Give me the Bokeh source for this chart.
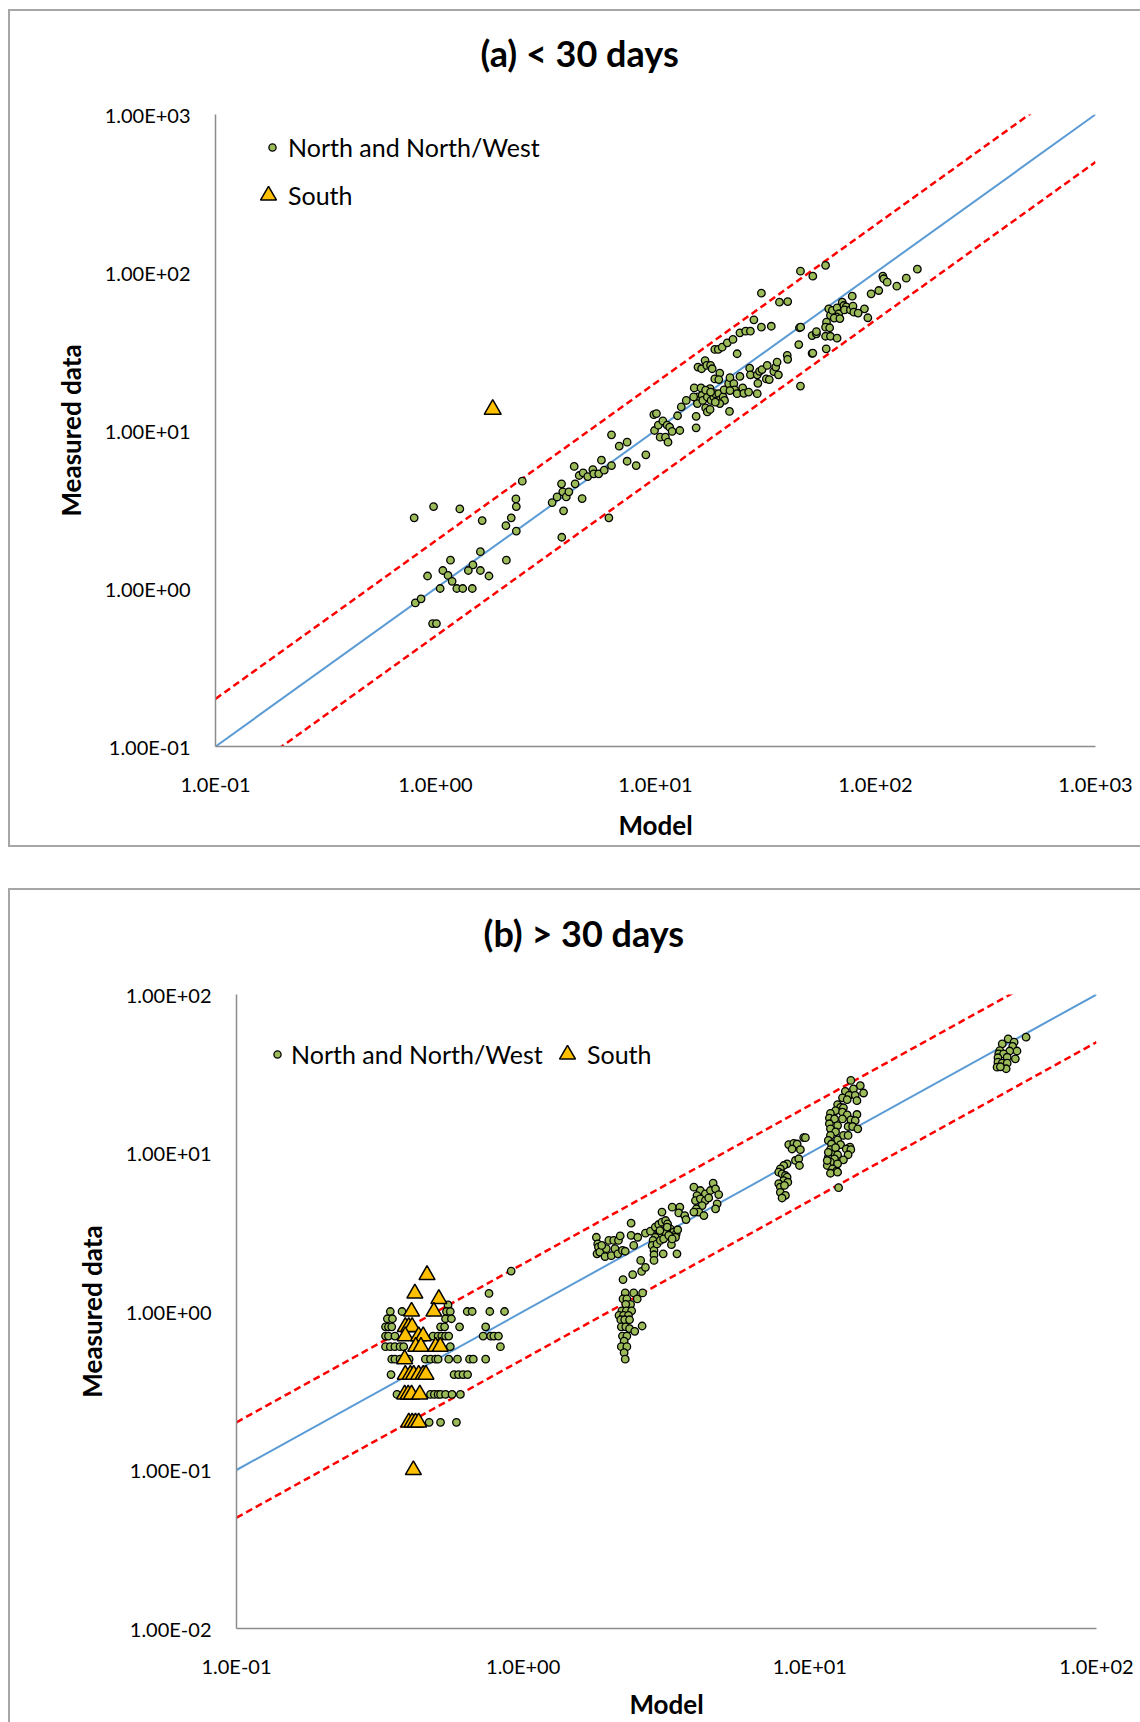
from bokeh.plotting import figure
from bokeh.models import (FixedTicker, CustomJSTickFormatter, Legend, LegendItem, Title, Range1d)
from bokeh.layouts import column
from bokeh.embed import file_html
from bokeh.resources import INLINE

# ---------------- data: panel (a) < 30 days ----------------
a_nnw_model = [0.80, 0.98, 1.29, 1.63, 2.48, 2.32, 2.33, 2.21, 2.09, 2.33, 1.60, 1.48, 1.17, 1.08, 1.14, 0.92,
               1.19, 1.05, 1.25, 1.33, 1.47, 1.41, 1.60, 1.75, 2.10, 0.81, 0.86, 0.97, 1.01, 3.75, 3.82, 3.39,
               3.57, 3.74, 3.79, 3.93, 4.04, 4.27, 4.31, 4.64, 4.50, 4.69, 4.92, 5.19, 5.24, 5.52, 5.68, 5.85,
               6.31, 6.14, 6.31, 6.84, 7.43, 7.43,
               8.17, 9.04, 9.83, 10.1, 9.9, 10.3, 10.8, 10.5, 11.1, 11.4, 11.3, 11.6, 11.9, 12.9, 12.6, 13.1,
               13.8, 15.3, 15.3, 15.0, 15.6, 16.2, 16.8, 17.1, 17.8, 18.1, 15.6, 15.5, 15.5, 16.1, 16.3, 16.4,
               16.9, 17.2, 17.7, 17.2, 17.7, 16.9, 17.9, 18.4, 18.6, 19.6, 19.4, 18.7, 19.4, 19.6, 20.3, 20.5,
               20.6, 19.6, 18.7, 17.8, 14.9, 21.5, 21.8, 22.7, 22.9, 21.8, 23.5, 24.2, 24.9, 25.2, 26.5, 21.7,
               23.5, 18.6, 19.3, 20.1, 21.2, 22.5, 24.2, 25.7, 27.0, 28.0, 30.3, 33.6, 36.6, 39.9, 26.8, 27.0,
               29.0, 29.2, 29.0, 29.7, 30.5, 32.2, 31.9, 32.9, 34.5, 35.2, 35.7, 36.2, 39.7, 39.9, 45.1, 45.7,
               44.8, 45.6, 51.5, 53.9, 51.5, 30.3,
               45.6, 51.9, 59.3, 78.4, 95.5, 103.5, 108, 109, 113, 125, 138, 155, 61.3, 62.4, 63.7, 66.9,
               68.1, 66.5, 64.9, 68.9, 70.6, 71.8, 73.6, 72.3, 76.9, 79.0, 79.7, 83.4, 89.1, 92.3, 59.9, 59.3,
               61.9, 59.3, 62.4, 66.9, 59.7, 53.9, 51.9]
a_nnw_measured = [2.80, 3.30, 3.19, 2.69, 4.78, 3.69, 3.30, 2.80, 2.50, 2.31, 1.71, 1.41, 1.51, 1.30, 1.21, 1.20,
                  1.11, 1.00, 1.00, 1.00, 1.00, 1.30, 1.30, 1.20, 1.51, 0.81, 0.86, 0.60, 0.60, 2.11, 3.10, 3.50,
                  3.80, 4.60, 4.09, 3.80, 4.09, 5.92, 4.60, 3.71, 5.19, 5.40, 5.11, 5.66, 5.32, 5.32, 6.49, 5.61,
                  6.00, 2.80, 9.39, 7.96, 8.44, 6.39,
                  6.0, 7.02, 12.6, 12.8, 10.0, 10.8, 11.5, 9.07, 9.07, 8.43, 10.8, 10.5, 9.86, 10.0, 12.4, 14.1,
                  15.5, 10.4, 12.3, 18.6, 25.2, 24.6, 27.7, 25.8, 25.8, 24.6, 16.3, 15.5, 14.8, 18.6, 16.7, 15.5,
                  13.9, 13.1, 13.6, 16.3, 18.4, 18.0, 15.5, 16.3, 21.2, 23.1, 21.0, 17.1, 17.1, 15.6, 16.3, 18.1,
                  15.5, 14.8, 15.1, 17.5, 16.3, 19.8, 21.6, 19.8, 18.1, 17.9, 17.1, 22.0, 18.6, 17.2, 17.5, 13.2,
                  30.6, 32.6, 32.6, 33.7, 35.9, 37.7, 41.5, 42.5, 42.5, 50.2, 45.1, 45.7, 64.9, 65.5, 24.8, 22.5,
                  22.5, 19.9, 17.1, 23.7, 24.3, 25.8, 21.2, 21.0, 23.6, 25.2, 27.1, 22.5, 29.9, 28.2, 44.7, 45.1,
                  35.0, 19.1, 39.9, 40.9, 30.8, 74.0,
                  102, 94.8, 111, 70.8, 73.3, 76.9, 94.8, 91.3, 86.9, 81.9, 92.0, 105, 58.9, 53.5, 57.5, 59.8,
                  54.8, 52.4, 51.5, 51.1, 64.9, 61.8, 60.6, 58.0, 58.0, 61.2, 56.1, 55.4, 58.9, 51.7, 48.5, 45.1,
                  44.7, 39.5, 39.5, 38.4, 32.9, 42.3, 30.9]
a_south_model = [1.82]
a_south_measured = [13.6]

# ---------------- data: panel (b) > 30 days ----------------
b_nnw_model = [0.908, 0.76, 0.547,
               0.344, 0.378, 0.54, 0.557, 0.638, 0.664, 0.765, 0.861,
               0.336, 0.35, 0.536, 0.562,
               0.331, 0.339, 0.348, 0.515, 0.532, 0.60, 0.74,
               0.331, 0.339, 0.357, 0.485, 0.505, 0.52, 0.536, 0.55, 0.725, 0.77, 0.79, 0.82,
               0.331, 0.344, 0.357, 0.372, 0.383, 0.557, 0.833,
               0.348, 0.357, 0.372, 0.39, 0.40, 0.456, 0.475, 0.495, 0.505, 0.55, 0.59, 0.65, 0.67, 0.74,
               0.346, 0.574, 0.595, 0.617, 0.64,
               0.363, 0.475, 0.49, 0.505, 0.515, 0.536, 0.565, 0.604,
               0.47, 0.515, 0.585,
               1.80, 1.82, 1.83, 1.81, 1.85, 1.93, 1.95, 1.99, 2.03, 2.07, 2.09, 2.14, 2.15, 2.18, 2.22, 2.27, 1.88,
               2.23, 2.41, 2.59, 2.67, 2.57, 2.27, 2.23, 2.30, 2.43, 2.50, 2.61, 2.37, 2.28, 2.21, 2.29, 2.39,
               2.16, 2.24, 2.33, 2.19, 2.26, 2.35, 2.20, 2.28, 2.35, 2.22, 2.30, 2.25, 2.20, 2.30, 2.25, 2.27,
               2.60, 2.45,
               3.05, 3.31, 3.52, 3.49, 3.66, 3.70, 2.67, 2.78, 2.89, 2.97, 3.05, 3.14, 3.19, 3.26, 3.35, 3.42,
               3.46, 3.40, 3.19, 3.09, 2.97, 2.89, 2.84, 2.82, 2.86, 2.86, 2.86, 2.93, 3.01, 3.09, 3.22, 3.29,
               3.31, 3.44, 3.08, 3.18, 3.00, 2.38, 2.38, 2.51, 2.43,
               3.94, 4.15, 4.32, 4.50, 4.60, 4.69, 4.81, 4.04, 3.99, 4.15, 4.32, 4.44, 4.21, 4.02, 4.10, 4.27,
               4.75, 4.69, 3.94,
               8.44, 8.79, 9.03, 8.67, 9.27, 9.52, 9.65, 8.91, 9.15, 9.20, 8.33, 8.11, 7.89, 7.79, 8.00, 8.22,
               8.33, 8.11, 8.38, 7.79, 7.89, 8.16, 7.89, 8.22, 8.00,
               13.9, 15.0, 14.2, 13.3, 15.4, 13.7, 14.4, 13.0, 13.5, 14.6, 12.5, 12.8, 13.1, 12.3, 11.8, 13.0,
               13.5, 14.6, 11.7, 12.2, 13.0, 13.9, 14.4, 11.7, 12.5, 13.6, 14.1, 14.7, 11.8, 12.3, 13.1, 13.6,
               11.8, 11.6, 12.5, 11.9, 12.8, 13.8, 11.8, 12.3, 13.4, 13.9, 11.9, 12.5, 13.6, 11.6, 12.2, 13.1,
               11.8, 12.5, 11.5, 12.0, 12.4, 11.8, 12.5, 12.6, 11.5, 11.6,
               49.2, 56.8, 46.9, 51.6, 51.0, 52.8, 49.8, 46.0, 45.6, 47.4, 45.3, 48.8, 52.1, 45.3, 46.9, 48.8,
               45.0, 48.4, 46.2]
b_nnw_measured = [1.8, 1.3, 1.1,
                  1.0, 1.0, 1.0, 1.0, 1.0, 1.0, 1.0, 1.0,
                  0.9, 0.9, 0.9, 0.9,
                  0.8, 0.8, 0.8, 0.8, 0.8, 0.8, 0.8,
                  0.7, 0.7, 0.7, 0.7, 0.7, 0.7, 0.7, 0.7, 0.7, 0.7, 0.7, 0.7,
                  0.6, 0.6, 0.6, 0.6, 0.6, 0.6, 0.6,
                  0.5, 0.5, 0.5, 0.5, 0.5, 0.5, 0.5, 0.5, 0.5, 0.5, 0.5, 0.5, 0.5, 0.5,
                  0.4, 0.4, 0.4, 0.4, 0.4,
                  0.3, 0.3, 0.3, 0.3, 0.3, 0.3, 0.3, 0.3,
                  0.2, 0.2, 0.2,
                  2.94, 2.67, 2.55, 2.31, 2.37, 2.22, 2.49, 2.81, 2.25, 2.81, 2.49, 2.31, 2.81, 3.00, 2.43, 2.40, 2.61,
                  1.59, 1.71, 1.79, 1.90, 2.10, 1.31, 1.20, 1.20, 1.31, 1.20, 1.31, 1.11, 1.11, 1.01, 1.01, 1.01,
                  0.944, 0.944, 0.944, 0.887, 0.887, 0.887, 0.80, 0.80, 0.78, 0.70, 0.70, 0.65, 0.60, 0.60, 0.55, 0.50,
                  0.81, 0.75,
                  4.24, 4.55, 4.55, 4.19, 4.03, 3.80, 3.12, 3.21, 3.41, 3.54, 3.66, 3.75, 3.57, 3.32, 3.17, 3.09,
                  3.28, 2.94, 3.09, 3.17, 3.09, 2.94, 2.81, 2.61, 2.43, 2.28, 2.10, 2.67, 2.81, 2.87, 3.02, 2.64,
                  2.87, 2.31, 2.31, 3.41, 3.24, 3.61, 3.02, 2.94, 2.61,
                  6.09, 5.80, 5.52, 5.80, 6.45, 5.94, 5.47, 5.39, 5.01, 5.14, 5.01, 5.21, 4.66, 4.44, 4.24, 4.03,
                  4.78, 4.44, 4.24,
                  11.3, 11.5, 11.4, 10.6, 10.5, 12.5, 12.5, 8.97, 9.2, 8.34, 8.55, 8.34, 7.95, 7.57, 7.39, 7.21,
                  7.04, 6.70, 6.54, 6.4, 6.1, 6.24, 5.65, 5.4, 5.2,
                  28.7, 26.6, 25.4, 24.5, 23.9, 23.1, 23.1, 22.3, 21.7, 21.4, 20.2, 19.4, 19.3, 18.5, 17.8, 18.1,
                  17.4, 17.5, 16.6, 16.4, 16.4, 16.2, 16.0, 15.3, 14.9, 14.7, 14.7, 14.2, 14.2, 13.6, 12.9, 12.9,
                  12.9, 12.0, 12.1, 11.4, 11.3, 10.9, 10.5, 10.8, 10.6, 10.5, 9.85, 9.75, 9.75, 9.4, 9.18, 9.05,
                  8.75, 8.55, 8.34, 7.95, 7.68, 7.45, 7.57, 6.04, 8.97, 10.1,
                  52.5, 53.8, 48.8, 50.0, 47.0, 44.0, 44.0, 44.3, 42.2, 42.2, 39.9, 40.2, 39.3, 37.4, 36.9, 36.9,
                  34.8, 34.0, 35.0]
b_south_model = [0.462, 0.419, 0.508, 0.408, 0.488, 0.388, 0.399, 0.41, 0.388, 0.432, 0.448, 0.422, 0.44,
                 0.495, 0.514, 0.386, 0.388, 0.404, 0.415, 0.432, 0.448, 0.458, 0.386, 0.397, 0.408, 0.436,
                 0.399, 0.41, 0.421, 0.432, 0.414]
b_south_measured = [1.7, 1.3, 1.2, 1.0, 1.0, 0.8, 0.8, 0.8, 0.7, 0.7, 0.7, 0.6, 0.6,
                    0.6, 0.6, 0.5, 0.4, 0.4, 0.4, 0.4, 0.4, 0.4, 0.3, 0.3, 0.3, 0.3,
                    0.2, 0.2, 0.2, 0.2, 0.1]

# axis ticks and labels
a_x_ticks = [0.1, 1, 10, 100, 1000]
a_x_labels = ["1.0E-01", "1.0E+00", "1.0E+01", "1.0E+02", "1.0E+03"]
a_y_ticks = [0.1, 1, 10, 100, 1000]
a_y_labels = ["1.00E-01", "1.00E+00", "1.00E+01", "1.00E+02", "1.00E+03"]
b_x_ticks = [0.1, 1, 10, 100]
b_x_labels = ["1.0E-01", "1.0E+00", "1.0E+01", "1.0E+02"]
b_y_ticks = [0.01, 0.1, 1, 10, 100]
b_y_labels = ["1.00E-02", "1.00E-01", "1.00E+00", "1.00E+01", "1.00E+02"]

FONT = "Lato"
GREEN = "#9BBB59"
GOLD = "#FFC000"
BLUE = "#5B9BD5"
RED = "#FF0000"
AXIS_GREY = "#8C8C8C"
BORDER_GREY = "#A6A6A6"


def fmt(tv, tl):
    return CustomJSTickFormatter(args=dict(tv=tv, tl=tl), code="""
        for (let i = 0; i < tv.length; i++) {
            if (Math.abs(Math.log10(tv[i]) - Math.log10(tick)) < 1e-6) return tl[i];
        }
        return '';
    """)


def panel(title, title_off, title_standoff, width, height, borders, margin, xr, yr, xt, xl, yt, yl,
          nnw_x, nnw_y, s_x, s_y, tri_size, leg, xlab_standoff):
    left, right, top, bottom = borders
    p = figure(width=width, height=height, x_axis_type="log", y_axis_type="log",
               x_range=Range1d(*xr), y_range=Range1d(*yr), output_backend="svg",
               toolbar_location=None, min_border_left=left, min_border_right=right,
               min_border_top=top, min_border_bottom=bottom, margin=margin,
               styles={"outline": "2px solid " + BORDER_GREY})
    p.frame_align = False
    p.xgrid.grid_line_color = None
    p.ygrid.grid_line_color = None
    p.outline_line_color = None
    # trailing blank line lifts the title away from the plot frame
    p.title = Title(text=title + "\n", align="left", offset=title_off, standoff=title_standoff,
                    text_font=FONT, text_font_size="36px", text_font_style="bold", text_color="black",
                    text_line_height=1.0)
    p.xaxis.ticker = FixedTicker(ticks=xt)
    p.yaxis.ticker = FixedTicker(ticks=yt)
    p.xaxis.formatter = fmt(xt, xl)
    p.yaxis.formatter = fmt(yt, yl)
    for ax in (p.xaxis[0], p.yaxis[0]):
        ax.axis_line_color = AXIS_GREY
        ax.axis_line_width = 1.5
        ax.major_tick_line_color = None
        ax.minor_tick_line_color = None
        ax.major_tick_out = 0
        ax.major_tick_in = 0
        ax.minor_tick_out = 0
        ax.minor_tick_in = 0
        ax.major_label_text_font = FONT
        ax.major_label_text_font_size = "20px"
        ax.major_label_text_color = "black"
        ax.axis_label_text_font = FONT
        ax.axis_label_text_font_size = "26px"
        ax.axis_label_text_font_style = "bold"
        ax.axis_label_text_color = "black"
    p.xaxis.axis_label = "Model"
    p.yaxis.axis_label = "Measured data"
    p.xaxis.major_label_standoff = 25
    p.yaxis.major_label_standoff = 25
    p.xaxis.axis_label_standoff = xlab_standoff
    p.yaxis.axis_label_standoff = 15

    # 1:1 line and factor-of-two bounds
    lo, hi = xr
    p.line([lo, hi], [lo, hi], line_color=BLUE, line_width=2)
    p.line([lo, hi], [2 * lo, 2 * hi], line_color=RED, line_width=2.5, line_dash="7 4")
    p.line([lo, hi], [0.5 * lo, 0.5 * hi], line_color=RED, line_width=2.5, line_dash="7 4")

    r1 = p.scatter(nnw_x, nnw_y, marker="circle", size=7.5, fill_color=GREEN,
                   line_color="black", line_width=1.3)
    r2 = p.scatter(s_x, s_y, marker="triangle", size=tri_size, fill_color=GOLD,
                   line_color="black", line_width=1.5)

    (l1x, l1y, s1), (l2x, l2y, s2) = leg
    common = dict(padding=0, margin=0, border_line_color=None, background_fill_alpha=0,
                  label_text_font=FONT, label_text_font_size="25px", label_text_color="black",
                  spacing=0, label_height=30)
    lg1 = Legend(items=[LegendItem(label="North and North/West", renderers=[r1])],
                 location=(l1x, l1y), glyph_width=18, glyph_height=30, label_standoff=s1, **common)
    lg2 = Legend(items=[LegendItem(label="South", renderers=[r2])],
                 location=(l2x, l2y), glyph_width=40, glyph_height=40, label_standoff=s2, **common)
    p.add_layout(lg1)
    p.add_layout(lg2)
    return p


pa = panel("(a) < 30 days", 265, -9, 1130, 834, (205, 45, 103, 99), (11, 0, 0, 10),
           (0.1, 1000), (0.1, 1000),
           a_x_ticks, a_x_labels, a_y_ticks, a_y_labels,
           a_nnw_model, a_nnw_measured, a_south_model, a_south_measured, 17,
           ((48, 584, 7), (33, 531, 0)), 10)
pb = panel("(b) > 30 days", 247, -9, 1130, 832, (226, 44, 104, 94), (45, 0, 0, 10),
           (0.1, 100), (0.01, 100),
           b_x_ticks, b_x_labels, b_y_ticks, b_y_labels,
           b_nnw_model, b_nnw_measured, b_south_model, b_south_measured, 16,
           ((32, 559, 5), (311, 554, 0)), 7)

layout = column(pa, pb, spacing=0)
open("out.html", "w").write(file_html(layout, INLINE))
